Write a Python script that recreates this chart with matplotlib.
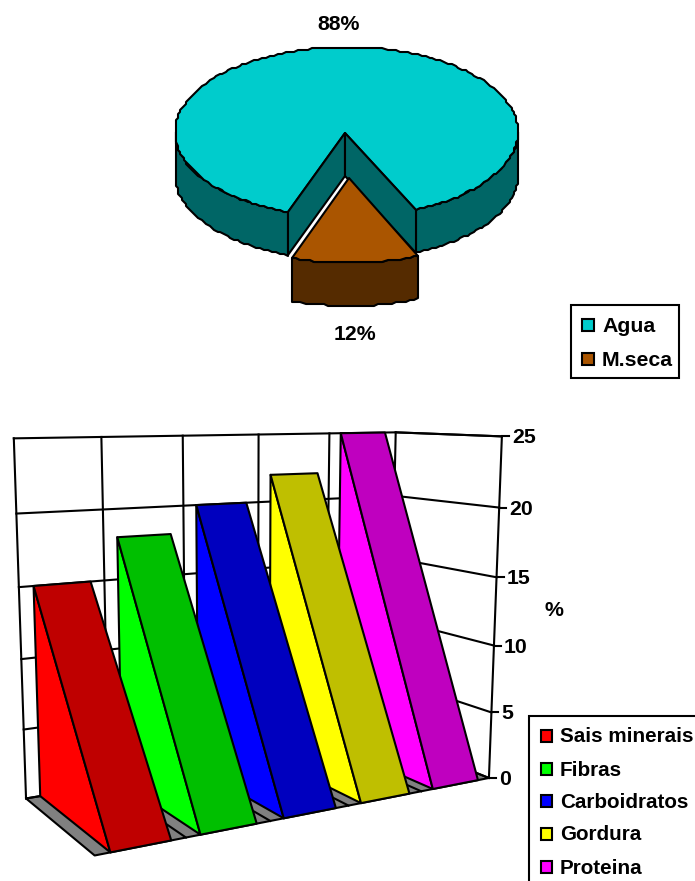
import numpy as np
import matplotlib
matplotlib.use("Agg")
import matplotlib.pyplot as plt
from matplotlib.patches import Polygon, Rectangle

# pie data
pie_names = ["Agua", "M.seca"]
pie_values = [88, 12]
pie_top = ["#00CCCC", "#AA5500"]
pie_side = ["#006666", "#552B00"]

# wedge chart data
names = ["Sais minerais", "Fibras", "Carboidratos", "Gordura", "Proteina"]
values = [15, 18, 20, 22, 25]
side_colors = ["#FF0000", "#00FF00", "#0000FF", "#FFFF00", "#FF00FF"]
front_colors = ["#BF0000", "#00BF00", "#0000BF", "#BFBF00", "#BF00BF"]
ticks = [0, 5, 10, 15, 20, 25]

plt.rcParams["font.family"] = ["Liberation Sans", "DejaVu Sans"]
plt.rcParams["font.weight"] = "bold"
FS = 15.3
LW = 1.5

fig = plt.figure(figsize=(6.95, 8.81), dpi=100)
ax = fig.add_axes([0, 0, 1, 1])
ax.set_xlim(0, 695)
ax.set_ylim(881, 0)
ax.axis("off")


def poly(pts, color, z=1, lw=LW):
    ax.add_patch(Polygon(pts, closed=True, facecolor=color, edgecolor="black",
                         linewidth=lw, joinstyle="round", zorder=z))


# ---- 3D pie ----
CX, CY, RX, RY = 346.5, 132, 171.5, 85
DEPTH = 43


def arc(t0, t1, dx=0, dy=0):
    # angle measured clockwise from the front of the pie, snapped to a coarse
    # grid so the rim gets its stepped look
    t = np.radians(np.linspace(t0, t1, max(int(abs(t1 - t0) / 1.5), 1) + 1))
    x = CX + RX * np.sin(t) + dx
    y = CY + RY * np.cos(t) + dy
    return np.column_stack([np.round(x / 2) * 2, np.round(y / 2) * 2])


span = pie_values[1] / sum(pie_values) * 360
ROT = 2
a0 = ROT - span / 2
a1 = ROT + span / 2
apex = (345, 133)
OFF = (3, 46)

# outer rim of the big slice, left and right of the gap
rim_right = arc(a1, 90)
poly(np.vstack([rim_right, arc(a1, 90, 0, DEPTH)[::-1]]), pie_side[0])
rim_left = arc(270, 360 + a0)
poly(np.vstack([rim_left, arc(270, 360 + a0, 0, DEPTH)[::-1]]), pie_side[0])
# big slice top
poly(np.vstack([[apex], arc(a1, 360 + a0)]), pie_top[0], z=2)
# inner walls of the gap
le = arc(360 + a0, 360 + a0)[0]
re = arc(a1, a1)[0]
low = (apex[0], apex[1] + DEPTH)
poly([apex, le, (le[0], le[1] + DEPTH), low], pie_side[0], z=3)
poly([apex, re, (re[0], re[1] + DEPTH), low], pie_side[0], z=3)

# pulled out small slice
s_arc = arc(a0, a1, OFF[0], OFF[1])
poly(np.vstack([s_arc, arc(a0, a1, OFF[0], OFF[1] + DEPTH)[::-1]]), pie_side[1], z=4)
poly(np.vstack([[(apex[0] + 4, apex[1] + 45)], s_arc]), pie_top[1], z=5)

ax.text(339, 24.5, f"{pie_values[0]}%", ha="center", va="center", fontsize=FS)
ax.text(355, 334.5, f"{pie_values[1]}%", ha="center", va="center", fontsize=FS)

# pie legend
ax.add_patch(Rectangle((571, 305), 108, 73, facecolor="white", edgecolor="black", linewidth=LW))
for name, col, y in zip(pie_names, pie_top, [325, 359]):
    ax.add_patch(Rectangle((582, y - 6), 12, 12, facecolor=col, edgecolor="black", linewidth=LW))
    ax.text(602, y + 1.5, name, va="center", fontsize=FS)

# ---- 3D wedges ----
# camera matrix fitted on the frame: (category, value, depth) -> pixel
frame = [
    (0, 0, 0, 27, 800), (0, 5, 0, 23, 729), (0, 10, 0, 21, 659), (0, 15, 0, 20, 587),
    (0, 20, 0, 17, 513), (0, 25, 0, 13, 439), (1, 25, 0, 101, 437), (2, 25, 0, 183, 435),
    (3, 25, 0, 259, 434), (4, 25, 0, 329, 433), (5, 25, 0, 395, 433),
    (0, 0, 1, 95, 856), (1, 0, 1, 185.5, 837.5), (2, 0, 1, 269.5, 820), (3, 0, 1, 348, 805.5),
    (4, 0, 1, 420.5, 791), (5, 0, 1, 489, 778), (5, 5, 1, 492, 712), (5, 10, 1, 495, 646),
    (5, 15, 1, 497, 577), (5, 20, 1, 499, 508), (5, 25, 1, 502, 437),
]
A, b = [], []
for c, v, d, px, py in frame:
    A.append([c, v, d, 1, 0, 0, 0, 0, -px * c, -px * v, -px * d])
    b.append(px)
    A.append([0, 0, 0, 0, c, v, d, 1, -py * c, -py * v, -py * d])
    b.append(py)
P = np.append(np.linalg.lstsq(np.array(A, float), np.array(b, float), rcond=None)[0], 1.0)
P = P.reshape(3, 4)


def proj(c, v, d):
    h = P @ np.array([c, v, d, 1.0])
    return h[0] / h[2], h[1] / h[2]


n = len(values)
vmax = ticks[-1]
# floor
poly([proj(0, 0, 0), proj(n, 0, 0), proj(n, 0, 1), proj(0, 0, 1)], "#808080", z=6)
for i in range(1, n):
    ax.plot(*zip(proj(i, 0, 0), proj(i, 0, 1)), color="black", lw=LW, zorder=6)
# back wall and side wall grid
for t in ticks:
    ax.plot(*zip(proj(0, t, 0), proj(n, t, 0), proj(n, t, 1)), color="black", lw=LW, zorder=6)
    x, y = proj(n, t, 1)
    ax.plot([x, x + 7], [y, y], color="black", lw=LW, zorder=6)
    ax.text(x + 10, y + 1.5, str(t), va="center", fontsize=FS, zorder=6)
for i in range(n + 1):
    ax.plot(*zip(proj(i, 0, 0), proj(i, vmax, 0)), color="black", lw=LW, zorder=6)
ax.plot(*zip(proj(n, 0, 1), proj(n, vmax, 1)), color="black", lw=LW, zorder=6)
ax.plot(*zip(proj(n, vmax, 0), proj(n, vmax, 1)), color="black", lw=LW, zorder=6)

# wedges go right to left so each one covers its neighbour's side
inset = 1 / 6
for i in range(n - 1, -1, -1):
    x0, x1 = i + inset, i + 1 - inset
    v = values[i]
    z = 7 + (n - i)
    poly([proj(x0, v, 0), proj(x0, 0, 0), proj(x0, 0, 1)], side_colors[i], z=z)
    poly([proj(x0, v, 0), proj(x1, v, 0), proj(x1, 0, 1), proj(x0, 0, 1)], front_colors[i], z=z)

ax.text(554, 611, "%", ha="center", va="center", fontsize=FS)

# wedge legend, its frame runs off the page on the right and at the bottom
ax.add_patch(Rectangle((529, 716), 200, 200, facecolor="white", edgecolor="black", linewidth=LW, zorder=20))
for name, col, y in zip(names, side_colors, [736, 769, 801, 834, 867]):
    ax.add_patch(Rectangle((541, y - 6), 11, 12, facecolor=col, edgecolor="black", linewidth=LW, zorder=21))
    ax.text(560, y + 1, name, va="center", fontsize=14.9, zorder=21)

fig.savefig("out.png", dpi=100)
